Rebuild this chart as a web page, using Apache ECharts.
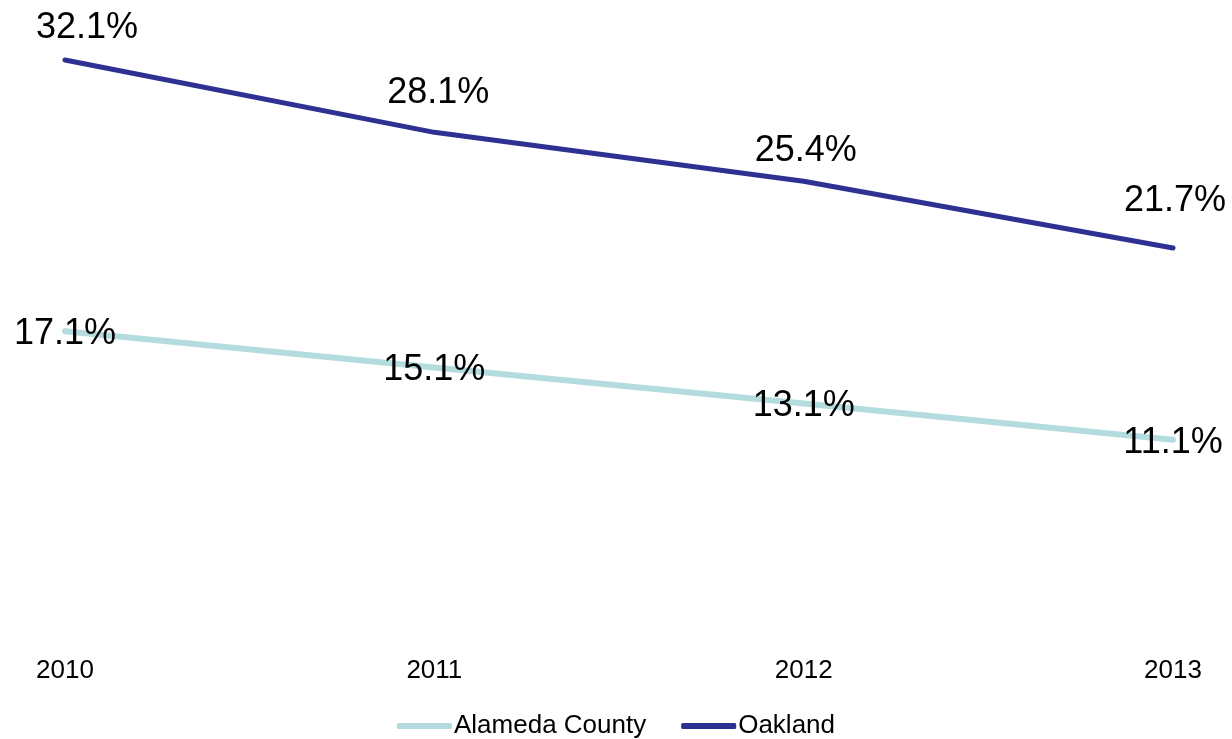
<!DOCTYPE html>
<html>
<head>
<meta charset="utf-8">
<script src="https://cdn.jsdelivr.net/npm/echarts@6/dist/echarts.min.js"></script>
<style>
html,body{margin:0;padding:0;background:#fff;}
#chart{width:1232px;height:739px;}
</style>
</head>
<body>
<div id="chart"></div>
<script>
const years = ['2010', '2011', '2012', '2013'];
const alameda = [17.1, 15.1, 13.1, 11.1];
const oakland = [32.1, 28.1, 25.4, 21.7];
const seriesNames = ['Alameda County', 'Oakland'];

const oaklandLabelOffsets = [[22, -32], [4, -39], [2, -30], [2, -47]];
const FONT = '"Liberation Sans", Arial, sans-serif';

const chart = echarts.init(document.getElementById('chart'));
chart.setOption({
  animation: false,
  backgroundColor: '#ffffff',
  grid: { left: 65, right: 59, top: 7.6, bottom: 98.6, containLabel: false },
  xAxis: {
    type: 'category',
    data: years,
    boundaryGap: false,
    axisLine: { show: false },
    axisTick: { show: false },
    axisLabel: { color: '#000', fontSize: 26, fontFamily: FONT, margin: 17 }
  },
  yAxis: {
    type: 'value',
    min: 0,
    max: 35,
    show: false,
    splitLine: { show: false }
  },
  legend: {
    data: seriesNames,
    top: 708,
    left: 'center',
    icon: 'roundRect',
    itemWidth: 55,
    itemHeight: 6,
    itemGap: 35,
    textStyle: { color: '#000', fontSize: 26, fontFamily: FONT, padding: [0, 0, 0, -3] }
  },
  series: [
    {
      name: seriesNames[0],
      type: 'line',
      data: alameda,
      symbol: 'circle',
      symbolSize: 1,
      lineStyle: { color: '#b4dcdf', width: 6, cap: 'round' },
      itemStyle: { color: '#b4dcdf' },
      label: {
        show: true,
        position: 'inside',
        offset: [0, 3],
        formatter: p => p.value.toFixed(1) + '%',
        color: '#000',
        fontSize: 36,
        fontFamily: FONT
      },
      z: 2
    },
    {
      name: seriesNames[1],
      type: 'line',
      data: oakland.map((v, i) => ({
        value: v,
        label: { offset: oaklandLabelOffsets[i] }
      })),
      symbol: 'circle',
      symbolSize: 1,
      lineStyle: { color: '#2e3192', width: 5, cap: 'round' },
      itemStyle: { color: '#2e3192' },
      label: {
        show: true,
        position: 'inside',
        formatter: p => p.value.toFixed(1) + '%',
        color: '#000',
        fontSize: 36,
        fontFamily: FONT
      },
      z: 3
    }
  ]
});
</script>
</body>
</html>
